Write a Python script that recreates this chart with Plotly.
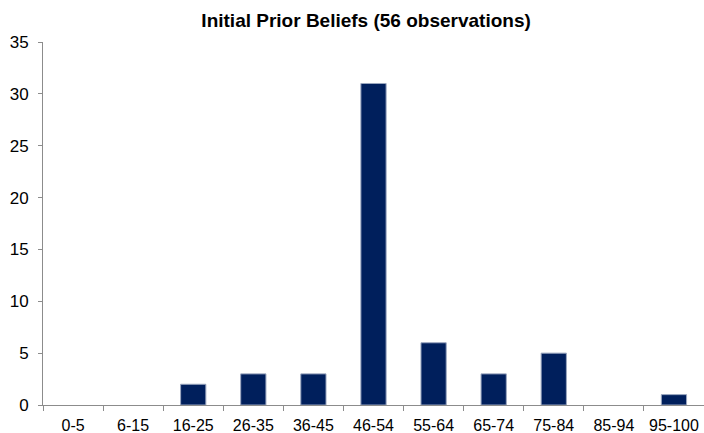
import plotly.graph_objects as go

categories = ["0-5", "6-15", "16-25", "26-35", "36-45", "46-54", "55-64", "65-74", "75-84", "85-94", "95-100"]
counts = [0, 0, 2, 3, 3, 31, 6, 3, 5, 0, 1]
title_text = "Initial Prior Beliefs (56 observations)"

fig = go.Figure(go.Bar(
    x=categories, y=counts,
    marker=dict(color="#001f5c",
                line=dict(color="#9aa6bf", width=[1 if c > 0 else 0 for c in counts])),
    width=0.42,
    hoverinfo="x+y",
))

fig.update_layout(
    width=704, height=433,
    margin=dict(l=43, r=0, t=42, b=28),
    paper_bgcolor="white", plot_bgcolor="white",
    font=dict(family="Liberation Sans, Arial, sans-serif", size=16, color="black"),
    title=dict(text="<b>" + title_text + "</b>", x=0.52, xanchor="center", y=0.952, yanchor="middle",
               font=dict(size=19, color="black")),
    showlegend=False,
)
fig.update_xaxes(
    showline=True, linecolor="#8c8c8c", linewidth=1,
    ticks="outside", ticklen=5, tickcolor="#8c8c8c", tickson="boundaries",
    showgrid=False, range=[-0.5, 10.5], ticklabelstandoff=6,
    tickfont=dict(size=16), automargin=False,
)
fig.update_yaxes(
    range=[0, 35], dtick=5, showline=True, linecolor="#8c8c8c", linewidth=1,
    ticks="outside", ticklen=4, tickcolor="#8c8c8c", showgrid=False, zeroline=False,
    tickfont=dict(size=17), ticklabelstandoff=6, automargin=False,
)

fig.write_html("out.html", config={"displayModeBar": False},
               post_script="document.body.style.margin='0';")
